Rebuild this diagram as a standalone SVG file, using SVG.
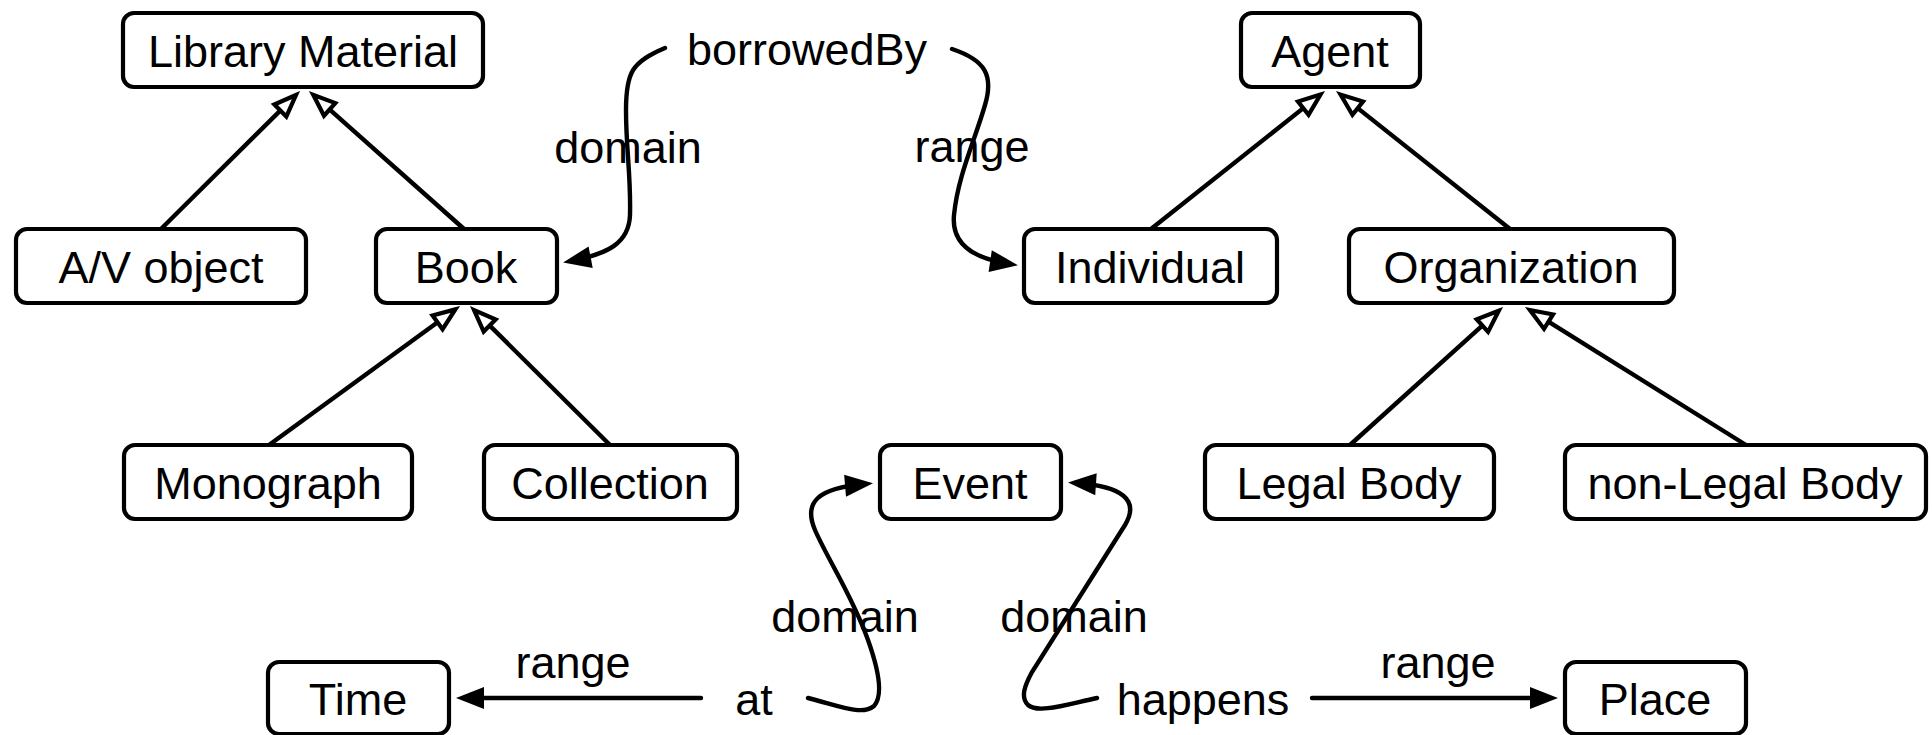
<svg xmlns="http://www.w3.org/2000/svg" width="1932" height="735" viewBox="0 0 1932 735">
  <style>
    .node rect { fill: #fff; stroke: #000; stroke-width: 4.2; }
    text { font-family: "Liberation Sans", Arial, Helvetica, sans-serif; font-size: 45px; fill: #000; text-anchor: middle; }
    .sub { fill: none; stroke: #000; stroke-width: 4.4; marker-end: url(#hollow); }
    .prop { fill: none; stroke: #000; stroke-width: 4.4; stroke-linecap: round; marker-end: url(#filled); }
  </style>
  <defs>
    <!-- open triangle for subclass links -->
    <marker id="hollow" markerUnits="userSpaceOnUse" viewBox="-20 -15 50 30" markerWidth="50" markerHeight="30" refX="0" refY="0" orient="auto" overflow="visible">
      <path d="M14.3,0 L-7.7,-8.5 L-7.7,8.5 Z" fill="#fff" stroke="#000" stroke-width="4.2"/>
    </marker>
    <!-- solid triangle for property links -->
    <marker id="filled" markerUnits="userSpaceOnUse" viewBox="-25 -15 40 30" markerWidth="40" markerHeight="30" refX="0" refY="0" orient="auto" overflow="visible">
      <path d="M8,0 L-20,-11 L-20,11 Z" fill="#000"/>
    </marker>
  </defs>

  <rect width="1932" height="735" fill="#fff"/>

  <g id="connectors">
    <!-- subclass links -->
    <path class="sub" d="M161,229 L285.8,105.1"/>
    <path class="sub" d="M464,229 L323.9,104.3"/>
    <path class="sub" d="M269,445 L443.8,317.8"/>
    <path class="sub" d="M610,445 L484.2,320.1"/>
    <path class="sub" d="M1151,229 L1309.3,103.4"/>
    <path class="sub" d="M1510,229 L1351.7,103.4"/>
    <path class="sub" d="M1350,445 L1488.1,320.4"/>
    <path class="sub" d="M1746,445 L1542,317.6"/>

    <!-- borrowedBy domain / range -->
    <path class="prop" d="M665,48 C632,62 626,72 626,110 C626,150 631,175 630,215 C629,243 608,254 571,261"/>
    <path class="prop" d="M952,49 C985,60 994,75 985,105 C975,140 958,175 954,215 C951,246 976,259 1010,264"/>

    <!-- at / happens domain -->
    <path class="prop" d="M808,698 C840,706 862,716 874,706 C884,695 878,668 868,640 C852,595 828,560 815,530 C803,502 818,488 865,484"/>
    <path class="prop" d="M1097,698 C1068,704 1038,714 1028,705 C1020,697 1025,685 1032,672 L1125,525 C1140,500 1122,486 1076,483"/>

    <!-- at / happens range -->
    <path class="prop" d="M701,698 L464,698"/>
    <path class="prop" d="M1312,698 L1550,698"/>
  </g>

  <g id="library-material" class="node"><rect x="123" y="13" width="360" height="74" rx="11"/><text x="303" y="67">Library Material</text></g>
  <g id="av-object" class="node"><rect x="16" y="229" width="290" height="74" rx="11"/><text x="161" y="283">A/V object</text></g>
  <g id="book" class="node"><rect x="376" y="229" width="181" height="74" rx="11"/><text x="466" y="283">Book</text></g>
  <g id="monograph" class="node"><rect x="124" y="445" width="288" height="74" rx="11"/><text x="268" y="499">Monograph</text></g>
  <g id="collection" class="node"><rect x="484" y="445" width="253" height="74" rx="11"/><text x="610" y="499">Collection</text></g>
  <g id="event" class="node"><rect x="880" y="445" width="181" height="74" rx="11"/><text x="970" y="499">Event</text></g>
  <g id="agent" class="node"><rect x="1241" y="13" width="179" height="74" rx="11"/><text x="1330" y="67">Agent</text></g>
  <g id="individual" class="node"><rect x="1024" y="229" width="253" height="74" rx="11"/><text x="1150" y="283">Individual</text></g>
  <g id="organization" class="node"><rect x="1349" y="229" width="325" height="74" rx="11"/><text x="1511" y="283">Organization</text></g>
  <g id="legal-body" class="node"><rect x="1205" y="445" width="289" height="74" rx="11"/><text x="1349" y="499">Legal Body</text></g>
  <g id="non-legal-body" class="node"><rect x="1565" y="445" width="361" height="74" rx="11"/><text x="1745" y="499">non-Legal Body</text></g>
  <g id="time" class="node"><rect x="268" y="662" width="181" height="72" rx="11"/><text x="358" y="715">Time</text></g>
  <g id="place" class="node"><rect x="1565" y="662" width="181" height="72" rx="11"/><text x="1655" y="715">Place</text></g>

  <g id="property-borrowedBy"><text x="807" y="65">borrowedBy</text></g>
  <g id="property-at"><text x="754" y="715">at</text></g>
  <g id="property-happens"><text x="1203" y="715">happens</text></g>

  <g id="edge-labels">
    <text x="628" y="163">domain</text>
    <text x="972" y="162">range</text>
    <text x="845" y="632">domain</text>
    <text x="1074" y="632">domain</text>
    <text x="573" y="678">range</text>
    <text x="1438" y="678">range</text>
  </g>
</svg>
